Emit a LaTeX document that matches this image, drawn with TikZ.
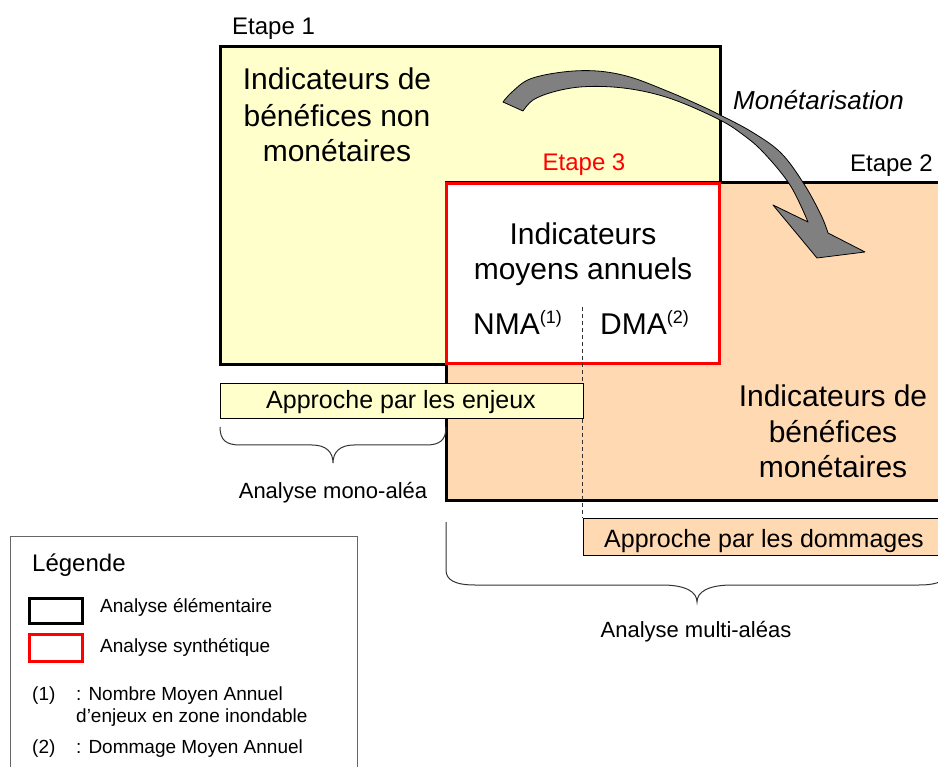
\documentclass[tikz,border=0pt]{standalone}
\usepackage{fontspec}
\setmainfont{Liberation Sans}
\definecolor{pyellow}{RGB}{255,255,204}
\definecolor{ppeach}{RGB}{255,217,178}
\definecolor{pred}{RGB}{255,0,0}
\definecolor{agray}{RGB}{128,128,128}
\begin{document}
\begin{tikzpicture}[x=1pt,y=-1pt,
  big/.style={font=\fontsize{30}{35}\selectfont, align=center, inner sep=0pt},
  mid/.style={font=\fontsize{24}{28}\selectfont, inner sep=0pt},
  small/.style={font=\fontsize{19}{22}\selectfont, inner sep=0pt},
  blabel/.style={font=\fontsize{22}{26}\selectfont, inner sep=0pt},
  appr/.style={font=\fontsize{25}{30}\selectfont, inner sep=0pt},
  mainbox/.style={draw=black, line width=3pt},
  thinbox/.style={draw=black, line width=0.9pt},
  bracestyle/.style={draw=black!80, line width=1pt}]
\useasboundingbox (0,0) rectangle (938,767);
% Etape 1 box
\path[fill=pyellow, mainbox] (220,47) rectangle (720,365);
% Etape 2 box
\path[fill=ppeach, mainbox] (446,183) rectangle (960,500);
% Etape 3 box
\path[fill=white, draw=pred, line width=3pt] (446,184) rectangle (719,364);
% dashed separator
\coordinate (dtop) at (582,307);
\coordinate (dbot) at (582,518);
\draw[line width=0.8pt, black!80, dash pattern=on 4pt off 3pt] (dtop) -- (dbot);
% approach boxes
\path[fill=pyellow, thinbox] (220,383) rectangle (583,418);
\path[fill=ppeach, thinbox] (583,518) rectangle (960,555);
% Texts
\node[mid, anchor=base west] (e1) at (232,35) {Etape 1};
\node[mid, anchor=base, text=pred] (e3) at (584,171) {Etape 3};
\node[mid, anchor=base east] (e2) at (933,172) {Etape 2};
\node[font=\fontsize{26}{30}\selectfont\itshape, inner sep=0pt, anchor=base west] (mon) at (733,110) {Monétarisation};
\node[big, anchor=base] (t1a) at (337,90) {Indicateurs de};
\node[big, anchor=base] (t1b) at (337,127) {bénéfices non};
\node[big, anchor=base] (t1c) at (337,162) {monétaires};
\node[big, anchor=base] (t3a) at (583,245) {Indicateurs};
\node[big, anchor=base] (t3b) at (583,280) {moyens annuels};
\node[big, anchor=base west] (nma) at (473,335) {NMA\raisebox{11pt}{\fontsize{18}{20}\selectfont(1)}};
\node[big, anchor=base west] (dma) at (600,335) {DMA\raisebox{11pt}{\fontsize{18}{20}\selectfont(2)}};
\node[big, anchor=base] (t2a) at (833,407) {Indicateurs de};
\node[big, anchor=base] (t2b) at (833,443) {bénéfices};
\node[big, anchor=base] (t2c) at (833,478) {monétaires};
\node[appr, anchor=base] (ae) at (401,409) {Approche par les enjeux};
\node[appr, anchor=base] (ad) at (764,547) {Approche par les dommages};
\node[blabel, anchor=base] (mono) at (333,498) {Analyse mono-aléa};
\node[blabel, anchor=base] (multi) at (696,637) {Analyse multi-aléas};
% braces
\draw[bracestyle] (220,427) .. controls (220,440) and (226,445) .. (240,445) -- (312,445)
  .. controls (326,445) and (333,452) .. (333,463)
  .. controls (333,452) and (340,445) .. (354,445) -- (426,445)
  .. controls (440,445) and (446,440) .. (446,427);
\draw[bracestyle] (446,522) -- (446,570) .. controls (446,580) and (455,585) .. (475,585) -- (662,585)
  .. controls (686,585) and (697,592) .. (697,602)
  .. controls (697,592) and (708,585) .. (732,585) -- (919,585)
  .. controls (939,585) and (948,580) .. (948,570) -- (948,522);
% curved arrow
\draw[fill=agray, draw=black, line width=0.8pt, line join=round]
  plot[smooth, tension=0.6] coordinates {(503,102) (512,92) (530,79) (563,72) (597,71) (630,77) (667,91) (697,104) (720,115) (752,132) (781,153) (804,184) (821,215) (828,233)}
  -- (865,252) -- (817,258) -- (773,205) -- (808,222)
  -- plot[smooth, tension=0.6] coordinates {(808,222) (790,185) (763,152) (742,134) (720,120) (680,102) (647,92) (613,87) (580,87) (553,92) (533,100) (523,111)}
  -- cycle;
% Legend
\draw[draw=black!60, line width=0.9pt] (10,536) rectangle (357,790);
\node[mid, anchor=base west] (leg) at (32,571) {Légende};
\draw[draw=black, line width=3pt] (29,598) rectangle (82,623);
\draw[draw=pred, line width=3pt] (29,634) rectangle (82,661);
\node[small, anchor=base west] (la) at (100,612) {Analyse élémentaire};
\node[small, anchor=base west] (lb) at (100,652) {Analyse synthétique};
\node[small, anchor=base west] (l1) at (32,700) {(1)};
\node[small, anchor=base west] (l1t) at (76,700) {: Nombre Moyen Annuel};
\node[small, anchor=base west] (l1u) at (76,722) {d’enjeux en zone inondable};
\node[small, anchor=base west] (l2) at (32,753) {(2)};
\node[small, anchor=base west] (l2t) at (76,753) {: Dommage Moyen Annuel};
\end{tikzpicture}
\end{document}
